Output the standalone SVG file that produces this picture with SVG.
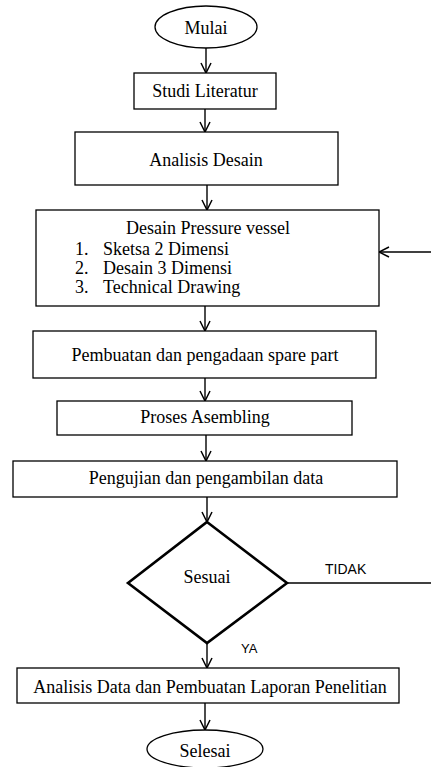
<svg xmlns="http://www.w3.org/2000/svg" width="431" height="767" viewBox="0 0 431 767">
<style>
.box{fill:#fff;stroke:#000;stroke-width:1.3}
.dia{fill:#fff;stroke:#000;stroke-width:2.6}
.t{font-family:"Liberation Serif","Times New Roman",serif;font-size:18px;fill:#000}
.c{text-anchor:middle}
.s{font-family:"Liberation Sans",Arial,sans-serif;font-size:14px;fill:#000}
.ln{fill:none;stroke:#000;stroke-width:1.4}
</style>
<defs>
<marker id="ah" viewBox="0 0 12 12" refX="11" refY="6" markerWidth="12" markerHeight="12" markerUnits="userSpaceOnUse" orient="auto">
<path d="M1,1 L11,6 L1,11" fill="none" stroke="#000" stroke-width="1.5"/>
</marker>
</defs>
<rect width="431" height="767" fill="#fff"/>
<g id="connectors">
<line class="ln" x1="206" y1="48" x2="206" y2="73" marker-end="url(#ah)"/>
<line class="ln" x1="205" y1="109" x2="205" y2="132" marker-end="url(#ah)"/>
<line class="ln" x1="207" y1="185" x2="207" y2="210" marker-end="url(#ah)"/>
<line class="ln" x1="205" y1="306" x2="205" y2="331" marker-end="url(#ah)"/>
<line class="ln" x1="205" y1="378" x2="205" y2="401" marker-end="url(#ah)"/>
<line class="ln" x1="206" y1="435" x2="206" y2="461" marker-end="url(#ah)"/>
<line class="ln" x1="207" y1="497" x2="207" y2="522" marker-end="url(#ah)"/>
<line class="ln" x1="207" y1="643" x2="207" y2="668" marker-end="url(#ah)"/>
<line class="ln" x1="205" y1="703" x2="205" y2="730" marker-end="url(#ah)"/>
<line class="ln" x1="287" y1="583" x2="431" y2="583"/>
<line class="ln" x1="431" y1="252" x2="379" y2="252" marker-end="url(#ah)"/>
<text class="s" x="325" y="574">TIDAK</text>
<text class="s" x="241" y="653" style="font-size:13px">YA</text>
</g>
<g id="mulai">
<ellipse class="box" cx="206" cy="27" rx="51" ry="21"/>
<text class="t c" x="206" y="34">Mulai</text>
</g>
<g id="studi">
<rect class="box" x="134" y="73" width="142" height="36"/>
<text class="t c" x="205" y="97">Studi Literatur</text>
</g>
<g id="analisis">
<rect class="box" x="75" y="132" width="263" height="53"/>
<text class="t c" x="206" y="166">Analisis Desain</text>
</g>
<g id="desain">
<rect class="box" x="36" y="210" width="343" height="96"/>
<text class="t c" x="208" y="234">Desain Pressure vessel</text>
<text class="t" x="75" y="255">1.</text>
<text class="t" x="103" y="255">Sketsa 2 Dimensi</text>
<text class="t" x="75" y="274">2.</text>
<text class="t" x="103" y="274">Desain 3 Dimensi</text>
<text class="t" x="75" y="293">3.</text>
<text class="t" x="103" y="293">Technical Drawing</text>
</g>
<g id="pembuatan">
<rect class="box" x="33" y="331" width="343" height="47"/>
<text class="t c" x="205" y="361">Pembuatan dan pengadaan spare part</text>
</g>
<g id="proses">
<rect class="box" x="57" y="401" width="295" height="34"/>
<text class="t c" x="205" y="423">Proses Asembling</text>
</g>
<g id="pengujian">
<rect class="box" x="13" y="461" width="384" height="36"/>
<text class="t c" x="206" y="484">Pengujian dan pengambilan data</text>
</g>
<g id="sesuai">
<polygon class="dia" points="207,522 287,583 207,643 128,583"/>
<text class="t c" x="207" y="583">Sesuai</text>
</g>
<g id="laporan">
<rect class="box" x="17" y="668" width="382" height="35"/>
<text class="t c" x="210" y="693">Analisis Data dan Pembuatan Laporan Penelitian</text>
</g>
<g id="selesai">
<ellipse class="box" cx="205" cy="749" rx="58" ry="19"/>
<text class="t c" x="205" y="757">Selesai</text>
</g>
</svg>
